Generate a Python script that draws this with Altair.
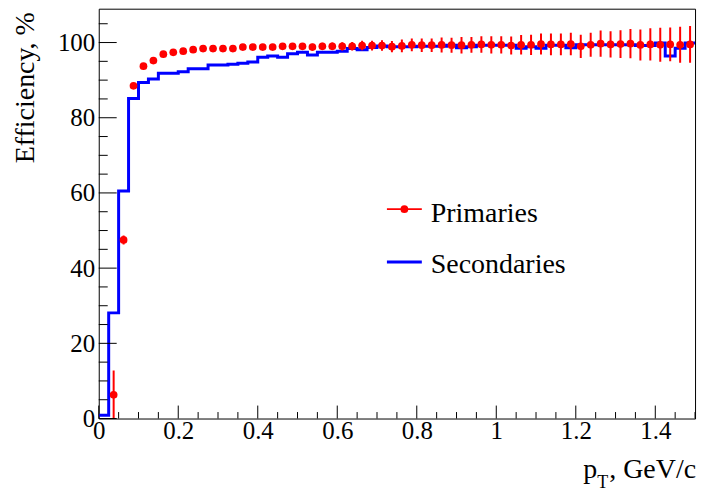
import altair as alt
import numpy as np
import pandas as pd

FONT = "Liberation Serif"
RED = "#ff0000"
BLUE = "#0000ff"
BIN = 0.025

# ---- data ----
red_eff = [6.3, 47.5, 88.5, 93.7, 95.2, 96.9, 97.4, 97.7, 98.1, 98.4,
           98.4, 98.4, 98.4, 98.8, 98.8, 98.8, 98.8, 99.0, 99.0, 99.0,
           98.8, 99.0, 99.0, 99.0, 99.0, 99.2, 99.2, 99.2, 98.9, 99.1,
           99.4, 99.3, 99.3, 99.35, 99.3, 99.3, 99.4, 99.5, 99.4, 99.4,
           99.2, 99.4, 99.4, 99.6, 99.5, 99.5, 99.6, 99.0, 99.4, 99.7,
           99.5, 99.6, 99.7, 99.35, 99.5, 99.4, 99.5, 99.4, 99.5]
red_err = [6.5, 1.2, 0.5, 0.4, 0.4, 0.4, 0.4, 0.4, 0.4, 0.45,
           0.5, 0.5, 0.55, 0.6, 0.6, 0.65, 0.7, 0.75, 0.8, 0.85,
           0.9, 0.95, 1.0, 1.1, 1.15, 1.25, 1.3, 1.4, 1.5, 1.7,
           1.7, 1.8, 1.8, 2.0, 2.0, 2.2, 2.1, 2.2, 2.3, 2.3,
           2.4, 2.6, 2.7, 2.8, 2.9, 2.9, 3.0, 3.1, 3.2, 3.5,
           3.5, 3.7, 3.9, 4.1, 4.3, 4.5, 4.5, 4.8, 4.9]
blue_eff = [0.9, 28.1, 60.5, 85.1, 89.4, 90.3, 91.8, 91.8, 92.2, 93.0,
            93.0, 94.0, 94.0, 94.2, 94.5, 94.8, 96.1, 96.4, 96.1, 97.0,
            97.4, 96.7, 97.4, 97.4, 97.7, 98.4, 98.1, 98.7, 99.1, 98.9,
            98.9, 98.9, 99.0, 99.0, 99.0, 99.3, 98.6, 98.9, 99.3, 99.3,
            99.3, 99.3, 98.5, 98.9, 98.5, 99.3, 99.3, 98.6, 99.4, 99.4,
            99.4, 99.4, 99.4, 99.4, 99.2, 99.2, 99.9, 96.4, 98.5, 99.9]

x_major = [0, 0.2, 0.4, 0.6, 0.8, 1.0, 1.2, 1.4]
x_minor = [v for v in np.round(np.arange(0, 1.5001, 0.05), 3) if round(v / 0.2, 6) % 1 != 0]
y_major = [0, 20, 40, 60, 80, 100]
y_minor = [v for v in range(0, 110, 5) if v % 20 != 0]

labels = ["Primaries", "Secondaries"]

# ---- tables ----
red_x = np.round(BIN * (np.arange(len(red_eff)) + 1.5), 4)
red = pd.DataFrame({"pt": red_x, "eff": red_eff, "err": red_err})
red["lo"] = red["eff"] - red["err"]
red["hi"] = red["eff"] + red["err"]

edges = np.round(BIN * np.arange(len(blue_eff) + 1), 4)
blue = pd.DataFrame({"pt": edges, "eff": blue_eff + [blue_eff[-1]]})

W, H = 598, 411
xs = alt.Scale(domain=[0, 1.5], nice=False, zero=False)
ys = alt.Scale(domain=[0, 109], nice=False, zero=False)

xaxis = alt.Axis(values=x_major, format="~g", title=None, domain=False, ticks=False,
                 tickSize=0, grid=False, labelPadding=0, labelFlush=False,
                 labelOverlap=False, labelFont=FONT, labelFontSize=25, labelColor="black")
yaxis = alt.Axis(values=y_major, format="d", title="Efficiency, %", domain=False,
                 ticks=False, tickSize=0, grid=False, labelPadding=4, labelFlush=False,
                 labelOverlap=False, labelFont=FONT, labelFontSize=25, labelColor="black",
                 titleFont=FONT, titleFontSize=28, titleFontWeight="normal",
                 titleColor="black", titleX=-65, titleY=3, titleAngle=270,
                 titleAlign="right", titleBaseline="alphabetic")

blue_line = alt.Chart(blue).mark_line(interpolate="step-after", color=BLUE,
                                      strokeWidth=3, clip=True).encode(
    x=alt.X("pt:Q", scale=xs, axis=xaxis),
    y=alt.Y("eff:Q", scale=ys, axis=yaxis),
)

red_bars = alt.Chart(red).mark_rule(color=RED, strokeWidth=2, clip=True).encode(
    x=alt.X("pt:Q", scale=xs), y=alt.Y("lo:Q", scale=ys), y2="hi:Q")

red_pts = alt.Chart(red).mark_circle(color=RED, size=60, opacity=1, clip=True).encode(
    x=alt.X("pt:Q", scale=xs), y=alt.Y("eff:Q", scale=ys))

# inward ticks
xmaj = alt.Chart(pd.DataFrame({"v": x_major})).mark_rule(color="black", strokeWidth=1).encode(
    x=alt.X("v:Q", scale=xs), y=alt.value(H), y2=alt.value(H - 13))
xmin = alt.Chart(pd.DataFrame({"v": x_minor})).mark_rule(color="black", strokeWidth=1).encode(
    x=alt.X("v:Q", scale=xs), y=alt.value(H), y2=alt.value(H - 6.5))
ymaj = alt.Chart(pd.DataFrame({"v": y_major})).mark_rule(color="black", strokeWidth=1).encode(
    y=alt.Y("v:Q", scale=ys), x=alt.value(0), x2=alt.value(18))
ymin = alt.Chart(pd.DataFrame({"v": y_minor})).mark_rule(color="black", strokeWidth=1).encode(
    y=alt.Y("v:Q", scale=ys), x=alt.value(0), x2=alt.value(9))

one = pd.DataFrame({"k": [0]})

# legend
leg_red_line = alt.Chart(one).mark_rule(color=RED, strokeWidth=2).encode(
    x=alt.value(289), x2=alt.value(324), y=alt.value(201))
leg_red_pt = alt.Chart(one).mark_circle(color=RED, size=60, opacity=1).encode(
    x=alt.value(306.5), y=alt.value(201))
leg_blue_line = alt.Chart(one).mark_rule(color=BLUE, strokeWidth=3).encode(
    x=alt.value(289), x2=alt.value(324), y=alt.value(254))
leg_t1 = alt.Chart(one).mark_text(text=labels[0], font=FONT, fontSize=28, align="left",
                                  baseline="alphabetic", color="black").encode(
    x=alt.value(333), y=alt.value(213.5))
leg_t2 = alt.Chart(one).mark_text(text=labels[1], font=FONT, fontSize=28, align="left",
                                  baseline="alphabetic", color="black").encode(
    x=alt.value(333), y=alt.value(265))

# x title: p_T, GeV/c
xt_p = alt.Chart(one).mark_text(text="p", font=FONT, fontSize=28, align="right",
                                baseline="alphabetic", color="black").encode(
    x=alt.value(500), y=alt.value(471))
xt_T = alt.Chart(one).mark_text(text="T", font=FONT, fontSize=18, align="left",
                                baseline="alphabetic", color="black").encode(
    x=alt.value(500), y=alt.value(481))
xt_rest = alt.Chart(one).mark_text(text=", GeV/c", font=FONT, fontSize=28, align="right",
                                   baseline="alphabetic", color="black").encode(
    x=alt.value(599), y=alt.value(471))

chart = alt.layer(
    blue_line, red_bars, red_pts, xmaj, xmin, ymaj, ymin,
    leg_red_line, leg_red_pt, leg_blue_line, leg_t1, leg_t2,
    xt_p, xt_T, xt_rest,
).properties(
    width=W, height=H,
    autosize=alt.AutoSizeParams(type="none"),
    padding={"left": 91, "top": 0, "right": 15, "bottom": 80},
    background="white",
).configure_view(stroke="black", strokeWidth=1)

chart.save("out.html", embed_options={"renderer": "svg", "actions": False})
